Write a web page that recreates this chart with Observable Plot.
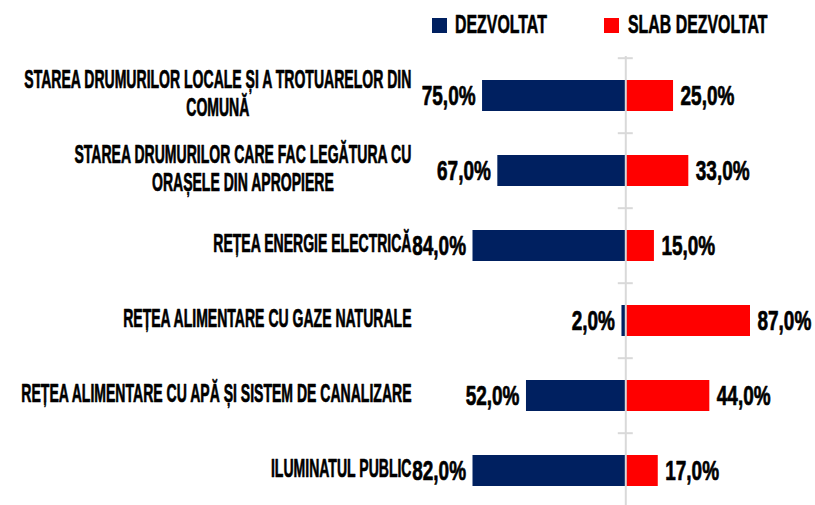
<!DOCTYPE html>
<html><head><meta charset="utf-8">
<script src="https://cdn.jsdelivr.net/npm/d3@7"></script>
<script src="https://cdn.jsdelivr.net/npm/@observablehq/plot@0.6"></script>
<style>
body{margin:0;background:#fff;}
#chart{position:relative;width:815px;height:505px;overflow:hidden;font-family:"Liberation Sans",Arial,sans-serif;font-weight:bold;}
#chart svg{position:absolute;left:0;top:0;}
.leg-sw{position:absolute;width:15px;height:15px;top:18px}
.leg-tx{position:absolute;top:11px;font-size:26.5px;line-height:1;transform:scaleX(0.6);transform-origin:0 0;color:#000;white-space:nowrap;-webkit-text-stroke:0.6px #000}
</style></head><body>
<div id="chart"></div>
<script>
const categories = [
  "STAREA DRUMURILOR LOCALE ȘI A TROTUARELOR DIN\nCOMUNĂ",
  "STAREA DRUMURILOR CARE FAC LEGĂTURA CU\nORAȘELE DIN APROPIERE",
  "REȚEA ENERGIE ELECTRICĂ",
  "REȚEA ALIMENTARE CU GAZE NATURALE",
  "REȚEA ALIMENTARE CU APĂ ȘI SISTEM DE CANALIZARE",
  "ILUMINATUL PUBLIC"
];
const seriesNames = ["DEZVOLTAT", "SLAB DEZVOLTAT"];
const dezvoltat = [75, 67, 84, 2, 52, 82];
const slabDezvoltat = [25, 33, 15, 87, 44, 17];
const colors = ["#002060", "#ff0000"];

const data = categories.map((c, i) => ({cat: c, dez: dezvoltat[i], slab: slabDezvoltat[i]}));
const fmt = v => v.toFixed(1).replace(".", ",") + "%";
const FONT = '"Liberation Sans",Arial,sans-serif';

const yRange = [56, 56 + 6 * 75.6];
const step = (yRange[1] - yRange[0]) / categories.length;

const plot = Plot.plot({
  width: 815, height: 505,
  marginLeft: 411, marginRight: 0, marginTop: 56, marginBottom: 0,
  x: {domain: [-80, 65.3], range: [472.5, 750], clamp: true, axis: null},
  y: {domain: categories, range: yRange, paddingInner: 0.59, paddingOuter: 0.295, axis: null},
  style: {fontFamily: FONT, fontWeight: "bold", background: "transparent", overflow: "visible"},
  marks: [
    Plot.barX(data, {x1: 0, x2: d => -d.dez, y: "cat", fill: colors[0]}),
    Plot.barX(data, {x1: 0, x2: "slab", y: "cat", fill: colors[1]}),
    Plot.ruleX([0], {stroke: "#d9d9d9", strokeWidth: 2}),
    Plot.ruleY(categories, {y: d => d, x1: 0, x2: 0, insetLeft: -7.5, insetRight: -7.5, dy: -step / 2, stroke: "#d9d9d9", strokeWidth: 2}),
    Plot.text(data, {x: d => -d.dez, y: "cat", text: d => fmt(d.dez), textAnchor: "end", dx: -7, fontSize: 27.5, fill: "#000", stroke: "#000", strokeWidth: 0.7}),
    Plot.text(data, {x: "slab", y: "cat", text: d => fmt(d.slab), textAnchor: "start", dx: 7, fontSize: 27.5, fill: "#000", stroke: "#000", strokeWidth: 0.7}),
    Plot.text(data, {y: "cat", text: "cat", frameAnchor: "left", textAnchor: "end", lineAnchor: "middle", lineHeight: 1.06, dy: -3, fontSize: 26, fill: "#000", stroke: "#000", strokeWidth: 0.7})
  ]
});

const chart = document.getElementById("chart");
chart.appendChild(plot);

// legend (HTML, above the svg)
const legendPos = [[432, 455], [604, 628]];
seriesNames.forEach((name, i) => {
  const sw = document.createElement("div");
  sw.className = "leg-sw"; sw.style.left = legendPos[i][0] + "px"; sw.style.background = colors[i];
  const tx = document.createElement("div");
  tx.className = "leg-tx"; tx.style.left = legendPos[i][1] + "px"; tx.textContent = name;
  chart.appendChild(sw); chart.appendChild(tx);
});

// condense text horizontally (to mimic a condensed display face)
plot.querySelectorAll("text").forEach(t => {
  const isValue = t.textContent.includes("%");
  const s = isValue ? 0.69 : 0.54;
  const ax = parseFloat(t.getAttribute("x")) || 0;
  let tr = t.getAttribute("transform") || "";
  const tspans = t.querySelectorAll("tspan");
  if (!isValue && tspans.length > 1) {
    const w = Math.max(...[...tspans].map(ts => ts.getComputedTextLength()));
    t.setAttribute("text-anchor", "middle");
    tr += ` translate(${-w * s / 2},0)`;
  }
  t.setAttribute("transform", `${tr} translate(${ax},0) scale(${s},1) translate(${-ax},0)`);
});
</script>
</body></html>
